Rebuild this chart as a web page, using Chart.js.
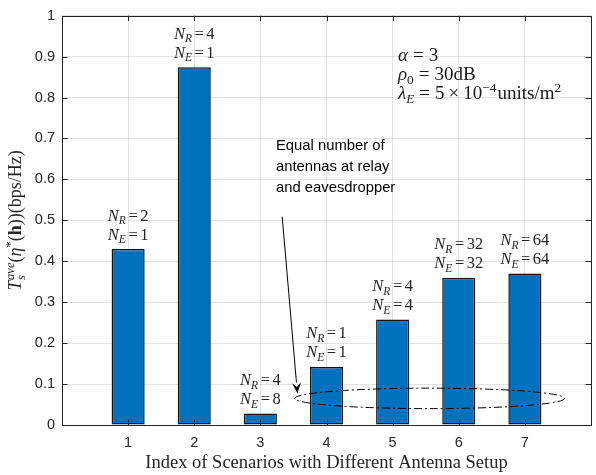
<!DOCTYPE html>
<html>
<head>
<meta charset="utf-8">
<script src="https://cdn.jsdelivr.net/npm/chart.js@4.4.1/dist/chart.umd.min.js"></script>
<style>
  html, body { margin: 0; padding: 0; background: #fff; overflow: hidden; }
  #wrap { width: 600px; height: 475px; }
</style>
</head>
<body>
<div id="wrap"><canvas id="c" width="600" height="475"></canvas></div>
<script>
// Average secrecy throughput per antenna scenario
const scenarioIndex = [1, 2, 3, 4, 5, 6, 7];
const secrecyThroughput = [0.43, 0.874, 0.028, 0.142, 0.258, 0.36, 0.37];
const relayAntennas = [2, 4, 4, 1, 4, 32, 64];
const eavesAntennas = [1, 1, 8, 1, 4, 32, 64];
const xTickLabels = ['1', '2', '3', '4', '5', '6', '7'];
const yTickValues = [0, 0.1, 0.2, 0.3, 0.4, 0.5, 0.6, 0.7, 0.8, 0.9, 1];
const noteLines = ['Equal number of', 'antennas at relay', 'and eavesdropper'];

const SERIF = '"Liberation Serif", "Times New Roman", serif';
const SANS = '"Liberation Sans", Arial, sans-serif';
const AXIS_COLOR = '#262626';

// Draw a run of math-like text segments (italic, bold, sub/superscripts)
function drawRich(ctx, segs, x, y, size, align, color) {
  const parts = segs.map(s => {
    const small = s.sub || s.sup;
    const sz = small ? size * 0.7 : size;
    const font = (s.i ? 'italic ' : '') + (s.b ? 'bold ' : '') + sz + 'px ' + SERIF;
    ctx.font = font;
    return { s, font, w: ctx.measureText(s.t).width, dy: s.sub ? size * 0.22 : (s.sup ? -size * 0.38 : 0) };
  });
  const xs = [];
  let cur = 0, lastStart = 0, lastW = 0;
  for (const p of parts) {
    if (p.s.stack) {
      xs.push(lastStart);
      const nw = Math.max(lastW, p.w);
      cur = lastStart + nw;
      lastW = nw;
    } else {
      cur += p.s.pre || 0;
      xs.push(cur);
      lastStart = cur;
      lastW = p.w;
      cur += p.w;
    }
    cur += p.s.post || 0;
  }
  const total = cur;
  let x0 = x;
  if (align === 'center') x0 = x - total / 2;
  else if (align === 'right') x0 = x - total;
  ctx.fillStyle = color;
  ctx.textBaseline = 'alphabetic';
  ctx.textAlign = 'left';
  parts.forEach((p, k) => {
    ctx.font = p.font;
    ctx.fillText(p.s.t, x0 + xs[k], y + p.dy);
  });
}

function antennaLines(nr, ne) {
  return [
    [{ t: 'N', i: true }, { t: 'R', i: true, sub: true, post: 2.5 }, { t: '=', post: 2.5 }, { t: String(nr) }],
    [{ t: 'N', i: true }, { t: 'E', i: true, sub: true, post: 2.5 }, { t: '=', post: 2.5 }, { t: String(ne) }]
  ];
}

const paramLines = [
  [{ t: 'α', i: true, post: 5 }, { t: '=', post: 5 }, { t: '3' }],
  [{ t: 'ρ', i: true }, { t: '0', sub: true, post: 5 }, { t: '=', post: 5 }, { t: '30dB' }],
  [{ t: 'λ', i: true }, { t: 'E', i: true, sub: true, post: 5 }, { t: '=', post: 5 }, { t: '5', post: 4 },
   { t: '×', post: 4 }, { t: '10' }, { t: '−4', sup: true, post: 1 }, { t: 'units/m' }, { t: '2', sup: true }]
];

const yTitle = [
  { t: 'T', i: true, post: 0.5 }, { t: 's', i: true, sub: true }, { t: 'ave', i: true, sup: true, stack: true },
  { t: '(' }, { t: 'η', i: true }, { t: '*', sup: true }, { t: '(' }, { t: 'h', b: true }, { t: '))(bps/Hz)' }
];

// Ellipse marking equal-antenna scenarios, and the pointer to it (data units)
const ringCenter = { x: 5.56, y: 0.065 };
const ringRadius = { x: 2.04, y: 0.025 };
const pointerFrom = { x: 3.33, y: 0.509 };
const pointerTo = { x: 3.56, y: 0.077 };

const framePlugin = {
  id: 'frame',
  afterDatasetsDraw(chart) {
    const { ctx, chartArea: a, scales: { x, y } } = chart;
    ctx.save();
    ctx.strokeStyle = AXIS_COLOR;
    ctx.lineWidth = 1;
    const tl = 5.5;
    ctx.beginPath();
    yTickValues.forEach(v => {
      const py = Math.round(y.getPixelForValue(v)) + 0.5;
      ctx.moveTo(a.left, py); ctx.lineTo(a.left + tl, py);
      ctx.moveTo(a.right, py); ctx.lineTo(a.right - tl, py);
    });
    scenarioIndex.forEach(v => {
      const px = Math.round(x.getPixelForValue(v)) + 0.5;
      ctx.moveTo(px, a.bottom); ctx.lineTo(px, a.bottom - tl);
      ctx.moveTo(px, a.top); ctx.lineTo(px, a.top + tl);
    });
    ctx.stroke();
    ctx.strokeRect(Math.round(a.left) + 0.5, Math.round(a.top) + 0.5,
      Math.round(a.right - a.left), Math.round(a.bottom - a.top));

    // antenna labels above each bar
    const meta = chart.getDatasetMeta(0);
    meta.data.forEach((bar, k) => {
      const lines = antennaLines(relayAntennas[k], eavesAntennas[k]);
      drawRich(ctx, lines[0], bar.x, bar.y - 34 + 5.5, 16.5, 'center', '#262626');
      drawRich(ctx, lines[1], bar.x, bar.y - 15 + 5.5, 16.5, 'center', '#262626');
    });

    // system parameters
    paramLines.forEach((ln, k) => {
      drawRich(ctx, ln, 398, 61 + k * 19, 19, 'left', '#1a1a1a');
    });

    // dash-dot ellipse
    const cx = x.getPixelForValue(ringCenter.x), cy = y.getPixelForValue(ringCenter.y);
    const rx = x.getPixelForValue(ringCenter.x + ringRadius.x) - cx;
    const ry = cy - y.getPixelForValue(ringCenter.y + ringRadius.y);
    ctx.setLineDash([8, 3, 2, 3]);
    ctx.strokeStyle = '#000';
    ctx.beginPath();
    ctx.ellipse(cx, cy, rx, ry, 0, 0, Math.PI * 2);
    ctx.stroke();
    ctx.setLineDash([]);

    // pointer arrow
    const x1 = x.getPixelForValue(pointerFrom.x), y1 = y.getPixelForValue(pointerFrom.y);
    const x2 = x.getPixelForValue(pointerTo.x), y2 = y.getPixelForValue(pointerTo.y);
    const ang = Math.atan2(y2 - y1, x2 - x1);
    const hl = 11, hw = 4.5;
    const bx = x2 - hl * Math.cos(ang), by = y2 - hl * Math.sin(ang);
    ctx.beginPath();
    ctx.moveTo(x1, y1); ctx.lineTo(bx, by);
    ctx.stroke();
    ctx.fillStyle = '#000';
    ctx.beginPath();
    ctx.moveTo(x2, y2);
    ctx.lineTo(bx + hw * Math.sin(ang), by - hw * Math.cos(ang));
    ctx.lineTo(x2 - hl * 0.6 * Math.cos(ang), y2 - hl * 0.6 * Math.sin(ang));
    ctx.lineTo(bx - hw * Math.sin(ang), by + hw * Math.cos(ang));
    ctx.closePath();
    ctx.fill();

    // note text
    ctx.font = '14.8px ' + SANS;
    ctx.fillStyle = '#000';
    ctx.textAlign = 'left';
    ctx.textBaseline = 'middle';
    noteLines.forEach((t, k) => ctx.fillText(t, 276, 146 + k * 21));

    // axis titles
    ctx.font = '18.5px ' + SERIF;
    ctx.fillStyle = AXIS_COLOR;
    ctx.textAlign = 'center';
    ctx.textBaseline = 'middle';
    ctx.fillText('Index of Scenarios with Different Antenna Setup', (a.left + a.right) / 2, 463);

    ctx.save();
    ctx.translate(21, (a.top + a.bottom) / 2);
    ctx.rotate(-Math.PI / 2);
    drawRich(ctx, yTitle, 0, 0, 18, 'center', AXIS_COLOR);
    ctx.restore();
    ctx.restore();
  }
};

new Chart(document.getElementById('c'), {
  type: 'bar',
  data: {
    datasets: [{
      data: scenarioIndex.map((v, k) => ({ x: v, y: secrecyThroughput[k] })),
      backgroundColor: '#0072BD',
      borderColor: '#111111',
      borderWidth: 1.5,
      borderSkipped: false,
      barPercentage: 0.5,
      categoryPercentage: 1.0
    }]
  },
  options: {
    responsive: false,
    animation: false,
    events: [],
    layout: { padding: { top: 9, right: 3, left: 0, bottom: 0 } },
    plugins: { legend: { display: false }, tooltip: { enabled: false } },
    scales: {
      x: {
        type: 'linear',
        min: 0, max: 8,
        offset: false,
        afterFit(s) { s.height = 50; },
        grid: { color: 'rgba(38,38,38,0.13)', drawTicks: false, offset: false },
        border: { display: false },
        ticks: {
          stepSize: 1,
          padding: 9,
          color: AXIS_COLOR,
          font: { family: SANS, size: 14.5 },
          callback: v => (v >= 1 && v <= 7 ? xTickLabels[v - 1] : '')
        }
      },
      y: {
        min: 0, max: 1,
        afterFit(s) { s.width = 62; },
        afterBuildTicks(s) { s.ticks = yTickValues.map(v => ({ value: v })); },
        grid: { color: 'rgba(38,38,38,0.13)', drawTicks: false },
        border: { display: false },
        ticks: {
          padding: 7,
          color: AXIS_COLOR,
          font: { family: SANS, size: 14.5 },
          callback: v => String(v)
        }
      }
    }
  },
  plugins: [framePlugin]
});
</script>
</body>
</html>
